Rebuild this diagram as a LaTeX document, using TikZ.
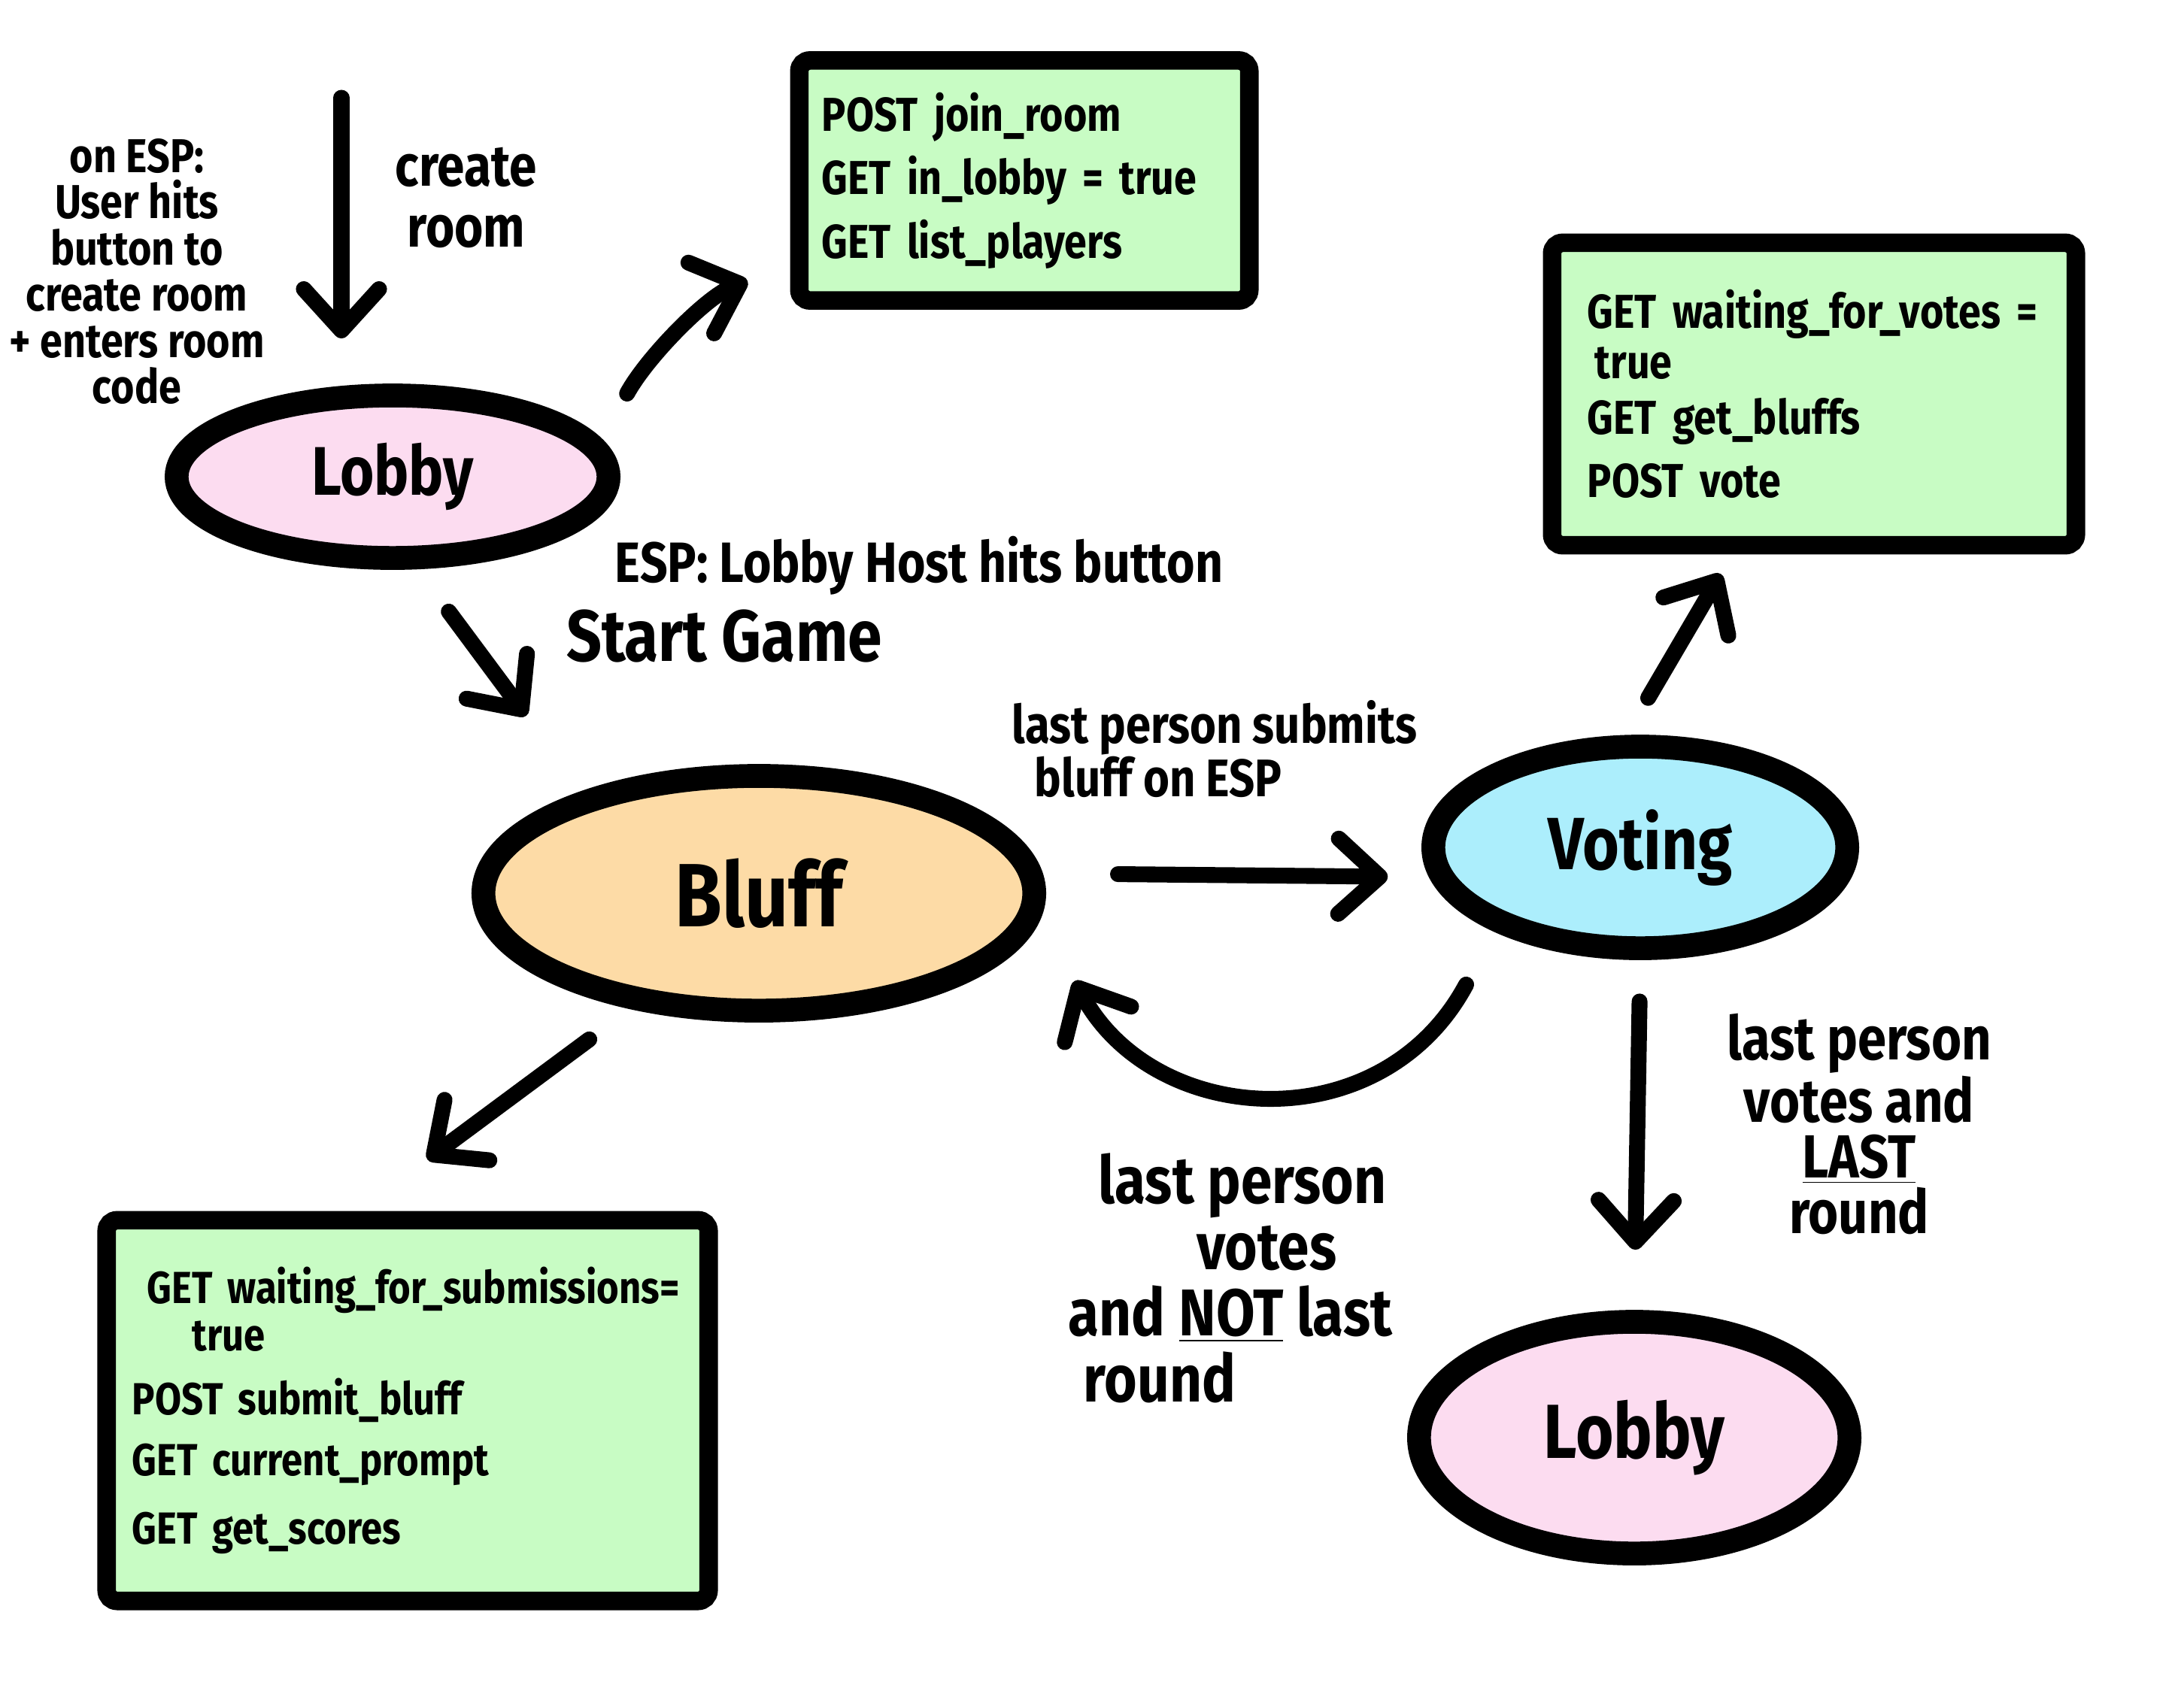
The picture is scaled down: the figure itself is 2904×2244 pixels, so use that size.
\documentclass[tikz,border=0pt]{standalone}
\usepackage{fontspec}
\setmainfont{Fira Sans}[FakeStretch=0.85]
\usepackage{tikz}
\usetikzlibrary{arrows.meta,shapes.geometric,calc}
\definecolor{lobbypink}{HTML}{FCDCF0}
\definecolor{bluffpeach}{HTML}{FDDBA6}
\definecolor{voteblue}{HTML}{ACEEFC}
\definecolor{notegreen}{HTML}{C8FCC4}

\begin{document}
\begin{tikzpicture}[x=0.01cm,y=-0.01cm,
  state/.style={ellipse,draw=black,line width=9pt,inner sep=0pt,font=\fontsize{26}{26}\selectfont\bfseries},
  note/.style={rectangle,rounded corners=4pt,draw=black,line width=7pt,fill=notegreen,align=left,inner ysep=0pt},
  flow/.style={line width=6pt,line cap=round,-{Straight Barb[length=0.55cm,width=1cm,round]}},
  tag/.style={inner sep=0pt,font=\bfseries}]
  \useasboundingbox (0,0) rectangle (2904,2244);

  % States
  \node[state,fill=lobbypink,minimum width=5.74cm,minimum height=2.16cm] (lobby) at (522,634) {Lobby};
  \node[state,fill=bluffpeach,minimum width=7.32cm,minimum height=3.12cm,font=\fontsize{34}{34}\selectfont\bfseries] (bluff) at (1009,1188) {Bluff};
  \node[state,fill=voteblue,minimum width=5.5cm,minimum height=2.68cm,font=\fontsize{28}{28}\selectfont\bfseries] (voting) at (2181,1127) {Voting};
  \node[state,fill=lobbypink,minimum width=5.72cm,minimum height=3.08cm,font=\fontsize{29}{29}\selectfont\bfseries] (lobbyend) at (2173,1912) {Lobby};

  % API notes
  \node[note,inner xsep=0.3cm,text width=5.38cm,minimum height=3.19cm,font=\fontsize{18}{24}\selectfont\bfseries] (lobbyapi) at (1362,240) {POST join\_room\\GET in\_lobby = true\\GET list\_players};
  \node[note,inner xsep=0.47cm,text width=6.02cm,minimum height=4.02cm,font=\fontsize{18}{19}\selectfont\bfseries] (votingapi) at (2412,524) {GET waiting\_for\_votes =\\\hspace*{0.1cm}true\\[2pt]GET get\_bluffs\\[5pt]POST vote};
  \node[note,inner xsep=0.34cm,text width=7.32cm,minimum height=5.06cm,font=\fontsize{17}{18}\selectfont\bfseries] (bluffapi) at (542,1876) {\hspace*{0.2cm}GET waiting\_for\_submissions=\\\hspace*{0.8cm}true\\[6pt]POST submit\_bluff\\[5pt]GET current\_prompt\\[8pt]GET get\_scores};

  % Labels
  \node[tag,align=center,font=\fontsize{18}{17.5}\selectfont\bfseries] (esplbl) at (182,361) {on ESP:\\User hits\\button to\\create room\\+ enters room\\code};
  \node[tag,align=center,font=\fontsize{22}{23}\selectfont\bfseries] (createlbl) at (620,263) {create\\room};
  \node[tag,font=\fontsize{21.5}{21.5}\selectfont\bfseries] (hostlbl) at (1222,752) {ESP: Lobby Host hits button};
  \node[tag,font=\fontsize{27.5}{27.5}\selectfont\bfseries] (startlbl) at (963,846) {Start Game};
  \node[tag,align=left,font=\fontsize{20}{20}\selectfont\bfseries] (submitlbl) at (1615,996) {last person submits\\\hspace*{0.3cm}bluff on ESP};
  \node[tag,align=left,font=\fontsize{25}{25}\selectfont\bfseries] (notlastlbl) at (1636,1700) {\hspace*{0.4cm}last person\\\hspace*{1.7cm}votes\\and \underline{NOT} last\\\hspace*{0.2cm}round};
  \node[tag,align=center,font=\fontsize{23}{21}\selectfont\bfseries] (lastlbl) at (2472,1495) {last person\\votes and\\\underline{LAST}\\round};

  % Transitions
  \coordinate (createtop) at (454,130);
  \draw[flow,shorten >=0.6cm] (createtop) -- (createtop |- lobby.north);
  \draw[flow,shorten <=0.7cm,shorten >=0.6cm] (lobby.10) .. controls +(60,-110) and +(-110,40) .. (lobbyapi.200);
  \draw[flow,shorten <=0.7cm,shorten >=1.25cm] (lobby.-75) -- (bluff.150);
  \draw[flow,shorten <=1cm,shorten >=0.55cm] (bluff.4) -- (voting.188);
  \draw[flow,shorten <=0.8cm,shorten >=0.95cm] (voting.210) .. controls +(-150,280) and +(150,280) .. (bluff.-5);
  \draw[flow,shorten <=0.57cm,shorten >=0.3cm] (voting.97) -- (votingapi.243);
  \draw[flow,shorten <=0.68cm,shorten >=1.15cm] (bluff.222) -- (bluffapi.104);
  \draw[flow,shorten <=0.55cm,shorten >=0.8cm] (voting.south) -- (lobbyend.north);
\end{tikzpicture}
\end{document}
